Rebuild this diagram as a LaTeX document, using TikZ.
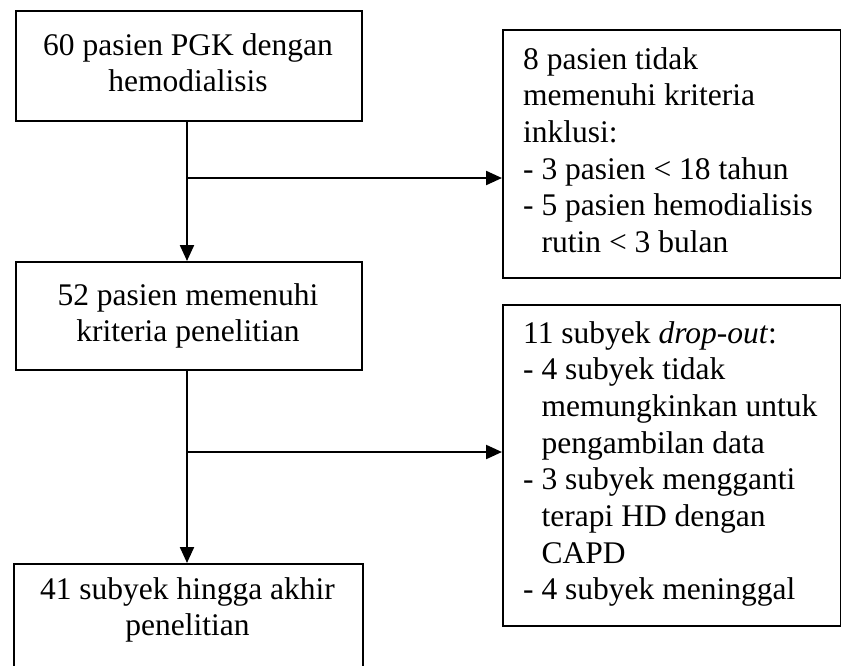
\documentclass[tikz,border=0pt]{standalone}
\usepackage{fontspec}
\setmainfont{Liberation Serif}
\usetikzlibrary{arrows.meta}
\begin{document}
\begin{tikzpicture}[x=1pt,y=-1pt,
  box/.style={draw, line width=2.2pt, inner sep=0pt, anchor=north west},
  lbl/.style={inner sep=0pt, font=\fontsize{31.5}{36.7}\selectfont,
    execute at begin node={\spaceskip=0pt\xspaceskip=0pt\relax}},
  mid/.style={lbl, anchor=base, align=flush center},
  side/.style={lbl, anchor=base west, align=flush left, text width=316pt},
  arr/.style={line width=2.2pt, -{Triangle[length=16pt,width=14pt]}}]
\useasboundingbox (0,0) rectangle (841,665);
\clip (0,0) rectangle (841,665);

% main flow boxes
\node[box, minimum width=346pt, minimum height=110pt] (b1) at (15,10) {};
\node[box, minimum width=346pt, minimum height=108pt] (b2) at (15,261) {};
\node[box, minimum width=349pt, minimum height=150pt] (b3) at (13,563) {};

% exclusion boxes
\node[box, minimum width=338pt, minimum height=248pt] (r1) at (502,29) {};
\node[box, minimum width=338pt, minimum height=321pt] (r2) at (502,304) {};

% box texts
\node[mid, text width=346pt] (t1) at (188,55) {60 pasien PGK dengan\\hemodialisis};
\node[mid, text width=346pt] (t2) at (188,305) {52 pasien memenuhi\\kriteria penelitian};
\node[mid, text width=349pt] (t3) at (187.5,599) {41 subyek hingga akhir\\penelitian};

\node[side] (u1) at (523,69) {8 pasien tidak\\memenuhi kriteria\\inklusi:\\- 3 pasien < 18 tahun\\- 5 pasien hemodialisis\\\hspace*{18.5pt}rutin < 3 bulan};
\node[side] (u2) at (523,343) {11 subyek \textit{drop-out}:\\- 4 subyek tidak\\\hspace*{18.5pt}memungkinkan untuk\\\hspace*{18.5pt}pengambilan data\\- 3 subyek mengganti\\\hspace*{18.5pt}terapi HD dengan\\\hspace*{18.5pt}CAPD\\- 4 subyek meninggal};

% connectors
\coordinate (j1) at (187,178);
\draw[arr] (b1.south -| j1) -- (b2.north -| j1);
\draw[arr] (j1) -- (j1 -| r1.west);
\coordinate (j2) at (187,452);
\draw[arr] (b2.south -| j2) -- (b3.north -| j2);
\draw[arr] (j2) -- (j2 -| r2.west);
\end{tikzpicture}
\end{document}
